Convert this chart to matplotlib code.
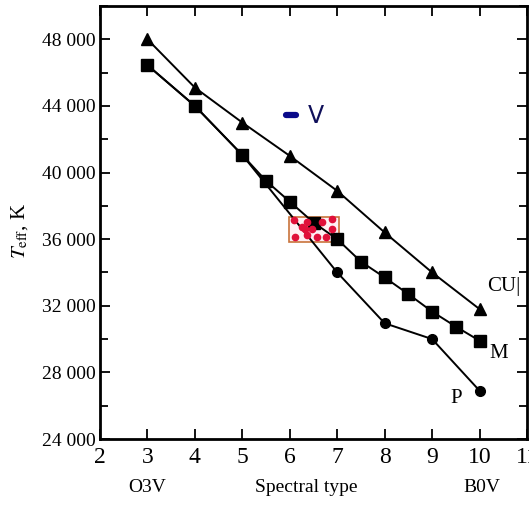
import matplotlib
matplotlib.use("Agg")
import matplotlib.pyplot as plt
from matplotlib.ticker import MultipleLocator, FuncFormatter
from matplotlib.patches import Rectangle

plt.rcParams['font.family'] = ['Liberation Serif', 'DejaVu Serif']
plt.rcParams['mathtext.fontset'] = 'stix'

# Data
cu_x = [3, 4, 5, 6, 7, 8, 9, 10]
cu_y = [48000, 45100, 43000, 41000, 38900, 36400, 34000, 31800]

m_x = [3, 4, 5, 5.5, 6, 6.5, 7, 7.5, 8, 8.5, 9, 9.5, 10]
m_y = [46450, 44000, 41050, 39500, 38250, 37000, 36000, 34650, 33700, 32700, 31650, 30750, 29900]

p_x = [3, 4, 5, 7, 8, 9, 10]
p_y = [46450, 44000, 41050, 34000, 30950, 30000, 26900]

dots_x = [6.08, 6.25, 6.32, 6.36, 6.11, 6.36, 6.57, 6.67, 6.76, 6.88, 6.88, 6.47]
dots_y = [37170, 36750, 36630, 37050, 36150, 36270, 36150, 37050, 36150, 37230, 36630, 36600]
box_x = [5.98, 7.03]
box_y = [35850, 37350]

v_x = [5.92, 6.14]
v_y = [43430, 43430]

xticks = [2, 3, 4, 5, 6, 7, 8, 9, 10, 11]
yticks = [24000, 28000, 32000, 36000, 40000, 44000, 48000]

fig = plt.figure(figsize=(5.29, 5.08), dpi=100)
ax = fig.add_axes([100/529, 1-439/508, 427/529, 433/508])

ax.plot(cu_x, cu_y, color='black', lw=1.4, marker='^', ms=9, zorder=3)
ax.plot(p_x[3:], p_y[3:], color='black', lw=0, marker='o', ms=7, zorder=3)
ax.plot(p_x, p_y, color='black', lw=1.4, zorder=2)
ax.plot(m_x, m_y, color='black', lw=1.4, marker='s', ms=8, zorder=4)

ax.add_patch(Rectangle((box_x[0], box_y[0]), box_x[1]-box_x[0], box_y[1]-box_y[0],
                       fill=True, facecolor='#fff0f4', edgecolor='#c8743c', lw=1.2, zorder=1))
ax.plot(dots_x, dots_y, ls='none', marker='o', ms=4.5, color='#e0103a', zorder=5)

ax.plot(v_x, v_y, color='#0a0a8a', lw=4.5, solid_capstyle='round', zorder=3)
ax.text(6.38, 43400, 'V', color='#10105a', fontsize=17, ha='left', va='center',
        family=['DejaVu Sans'])

ax.text(10.15, 33150, 'CU|', fontsize=15, ha='left', va='center')
ax.text(10.2, 29150, 'M', fontsize=15, ha='left', va='center')
ax.text(9.38, 26450, 'P', fontsize=15, ha='left', va='center')

ax.set_xlim(2, 11)
ax.set_ylim(24000, 50000)
ax.set_xticks(xticks)
ax.set_yticks(yticks)
ax.yaxis.set_minor_locator(MultipleLocator(2000))
ax.yaxis.set_major_formatter(FuncFormatter(lambda v, p: f"{int(v)//1000} {int(v)%1000:03d}"))

ax.tick_params(which='both', direction='in', top=True, right=True, width=1.3)
ax.tick_params(which='major', length=7)
ax.tick_params(which='minor', length=6)
ax.tick_params(axis='x', labelsize=17, pad=6)
ax.tick_params(axis='y', labelsize=14, pad=3)
for s in ax.spines.values():
    s.set_linewidth(2)

fig.text(147/529, 1-488/508, 'O3V', fontsize=14, ha='center', va='center')
fig.text(306/529, 1-488/508, 'Spectral type', fontsize=14, ha='center', va='center')
fig.text(482/529, 1-488/508, 'B0V', fontsize=14, ha='center', va='center')
fig.text(20/529, 1-231/508, r'$T_{\rm eff}$, K', fontsize=15, rotation=90, ha='center', va='center')

fig.savefig('out.png', dpi=100)
